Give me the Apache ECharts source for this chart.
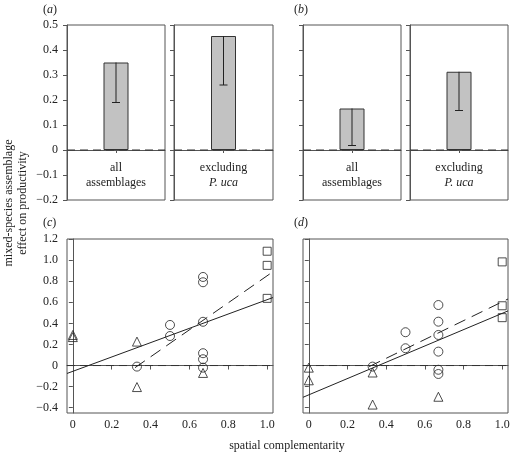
<!DOCTYPE html>
<html>
<head>
<meta charset="utf-8">
<script src="https://cdn.jsdelivr.net/npm/echarts@6/dist/echarts.min.js"></script>
<style>
  html, body { margin: 0; padding: 0; background: #fff; }
  #chart { width: 511px; height: 452px; }
</style>
</head>
<body>
<div id="chart"></div>
<script>
// ---------- data ----------
const barCategoriesAll = ['all'];
const barCategoriesExcl = ['excl'];
const panelA_all = [0.35, 0.19];    // [mean, lower]
const panelA_excl = [0.456, 0.26];
const panelB_all = [0.166, 0.018];
const panelB_excl = [0.313, 0.158];
const barYTicks = [-0.2, -0.1, 0, 0.1, 0.2, 0.3, 0.4, 0.5];

const scatterXTicks = [0, 0.2, 0.4, 0.6, 0.8, 1.0];
const scatterYTicks = [-0.4, -0.2, 0, 0.2, 0.4, 0.6, 0.8, 1.0, 1.2];

// panel (c)
const cTriangles = [[0, 0.29], [0, 0.27], [0.33, 0.227], [0.33, -0.204], [0.67, -0.07]];
const cCircles = [[0.33, -0.01], [0.5, 0.385], [0.5, 0.28], [0.67, 0.84], [0.67, 0.79], [0.67, 0.415], [0.67, 0.117], [0.67, 0.06], [0.67, -0.02]];
const cSquares = [[1.0, 1.084], [1.0, 0.95], [1.0, 0.637]];
const cFitSolid = [[-0.03, -0.075], [1.03, 0.645]];
const cFitDashed = [[0.32, -0.02], [1.03, 0.89]];

// panel (d)
const dTriangles = [[0, -0.02], [0, -0.14], [0.33, -0.066], [0.33, -0.37], [0.67, -0.296]];
const dCircles = [[0.33, -0.01], [0.5, 0.316], [0.5, 0.164], [0.67, 0.574], [0.67, 0.416], [0.67, 0.29], [0.67, 0.132], [0.67, -0.04], [0.67, -0.08]];
const dSquares = [[1.0, 0.983], [1.0, 0.567], [1.0, 0.454]];
const dFitSolid = [[-0.03, -0.301], [1.03, 0.518]];
const dFitDashed = [[0.312, -0.01], [1.03, 0.631]];

// ---------- styling ----------
const FONT = '"Liberation Serif", "Times New Roman", serif';
const AX = '#555';
const INK = '#222';
const TICKFS = 12;
const XMIN = -0.03, XMAX = 1.03;

function fmtNum(v, dec) {
  if (Math.abs(v) < 1e-9) return '0';
  const s = Math.abs(v).toFixed(dec);
  return (v < 0 ? '\u2212' : '') + s;
}

const topGrids = [
  { left: 67, top: 25, width: 98, height: 175 },
  { left: 174, top: 25, width: 99, height: 175 },
  { left: 303, top: 25, width: 98, height: 175 },
  { left: 410, top: 25, width: 98, height: 175 }
];
const bottomGrids = [
  { left: 67, top: 239, width: 206, height: 174 },
  { left: 303, top: 239, width: 205, height: 174 }
];
const grids = topGrids.concat(bottomGrids).map(g => Object.assign({
  show: true, borderColor: AX, borderWidth: 1, backgroundColor: 'transparent',
  outerBoundsMode: 'none', containLabel: false
}, g));

const labelTexts = ['all\nassemblages', 'excluding\n{it|P. uca}', 'all\nassemblages', 'excluding\n{it|P. uca}'];
const barCats = [barCategoriesAll, barCategoriesExcl, barCategoriesAll, barCategoriesExcl];
const barVals = [panelA_all, panelA_excl, panelB_all, panelB_excl];

const xAxes = [];
const yAxes = [];
const series = [];

for (let i = 0; i < 4; i++) {
  xAxes.push({
    type: 'category', gridIndex: i, data: barCats[i], boundaryGap: true,
    axisLine: { show: true, lineStyle: { color: AX, width: 1 } },
    axisTick: { show: true, alignWithLabel: true, length: 3, lineStyle: { color: AX } },
    axisLabel: {
      show: true, inside: true, margin: 10, interval: 0,
      formatter: () => labelTexts[i],
      fontFamily: FONT, fontSize: 12, lineHeight: 15, color: INK, align: 'center',
      rich: { it: { fontFamily: FONT, fontSize: 12, lineHeight: 15, color: INK, fontStyle: 'italic' } }
    },
    splitLine: { show: false }
  });
  yAxes.push({
    type: 'value', gridIndex: i, min: -0.2, max: 0.5,
    axisLine: { show: true, lineStyle: { color: AX, width: 1 } },
    axisTick: { show: true, length: 4, lineStyle: { color: AX }, customValues: barYTicks },
    axisLabel: {
      show: i === 0, margin: 9, fontFamily: FONT, fontSize: TICKFS, color: INK,
      customValues: barYTicks, formatter: v => fmtNum(v, 1)
    },
    splitLine: { show: false }
  });
  series.push({
    type: 'bar', xAxisIndex: i, yAxisIndex: i, barWidth: 25,
    data: [barVals[i][0]],
    itemStyle: { color: '#c2c2c2', borderColor: '#333', borderWidth: 1 },
    silent: true, z: 2
  });
  // dashed zero reference line across the panel
  series.push({
    type: 'custom', xAxisIndex: i, yAxisIndex: i, silent: true,
    data: [[0, 0]],
    renderItem: function (params, api) {
      const cs = params.coordSys;
      const y0 = api.coord([0, api.value(1)])[1];
      return {
        type: 'line',
        shape: { x1: cs.x, y1: y0, x2: cs.x + cs.width, y2: y0 },
        style: { stroke: '#333', lineWidth: 1, lineDash: [8, 5] }
      };
    },
    z: 4
  });
  series.push({
    type: 'custom', xAxisIndex: i, yAxisIndex: i, silent: true,
    data: [[0, barVals[i][0], barVals[i][1]]],
    encode: { x: 0, y: [1, 2] },
    renderItem: function (params, api) {
      const hi = api.coord([api.value(0), api.value(1)]);
      const lo = api.coord([api.value(0), api.value(2)]);
      const hw = 4;
      const st = { stroke: '#222', lineWidth: 1 };
      return {
        type: 'group',
        children: [
          { type: 'line', shape: { x1: hi[0], y1: hi[1], x2: lo[0], y2: lo[1] }, style: st },
          { type: 'line', shape: { x1: lo[0] - hw, y1: lo[1], x2: lo[0] + hw, y2: lo[1] }, style: st }
        ]
      };
    },
    z: 3
  });
}

const scatterSets = [
  { tri: cTriangles, cir: cCircles, sq: cSquares, fs: cFitSolid, fd: cFitDashed },
  { tri: dTriangles, cir: dCircles, sq: dSquares, fs: dFitSolid, fd: dFitDashed }
];

scatterSets.forEach((s, k) => {
  const gi = 4 + k;
  xAxes.push({
    type: 'value', gridIndex: gi, min: XMIN, max: XMAX,
    axisLine: { show: true, lineStyle: { color: AX, width: 1 } },
    axisTick: { show: true, length: 4, lineStyle: { color: AX }, customValues: scatterXTicks },
    axisLabel: {
      show: true, margin: 6, fontFamily: FONT, fontSize: TICKFS, color: INK,
      customValues: scatterXTicks, formatter: v => fmtNum(v, 1)
    },
    splitLine: { show: false }
  });
  yAxes.push({
    type: 'value', gridIndex: gi, min: -0.45, max: 1.2,
    axisLine: { show: true, lineStyle: { color: AX, width: 1 } },
    axisTick: { show: true, length: 4, lineStyle: { color: AX }, customValues: scatterYTicks },
    axisLabel: {
      show: k === 0, margin: 9, fontFamily: FONT, fontSize: TICKFS, color: INK,
      customValues: scatterYTicks, formatter: v => fmtNum(v, 1)
    },
    splitLine: { show: false }
  });
  const ax = { xAxisIndex: gi, yAxisIndex: gi };
  const hollow = { color: 'rgba(255,255,255,0)', borderColor: INK, borderWidth: 1 };
  series.push(Object.assign({
    type: 'line', data: [[XMIN, 0], [XMAX, 0]], symbol: 'none', silent: true,
    lineStyle: { color: '#333', width: 1, type: [8, 5] }
  }, ax));
  series.push(Object.assign({
    type: 'line', data: s.fs, symbol: 'none', clip: true, silent: true,
    lineStyle: { color: INK, width: 1 }
  }, ax));
  series.push(Object.assign({
    type: 'line', data: s.fd, symbol: 'none', clip: true, silent: true,
    lineStyle: { color: INK, width: 1, type: [12, 7] }
  }, ax));
  series.push(Object.assign({
    type: 'scatter', data: s.cir, symbol: 'circle', symbolSize: 9, itemStyle: hollow, silent: true
  }, ax));
  series.push(Object.assign({
    type: 'scatter', data: s.tri, symbol: 'triangle', symbolSize: 9, itemStyle: hollow, silent: true
  }, ax));
  series.push(Object.assign({
    type: 'scatter', data: s.sq, symbol: 'rect', symbolSize: 8, itemStyle: hollow, silent: true
  }, ax));
});

const txt = (x, y, text, extra) => Object.assign({
  type: 'text', x: x, y: y,
  style: Object.assign({
    text: text, fontFamily: FONT, fontSize: 12, fill: INK
  }, extra || {})
});
const letterRich = { it: { fontFamily: FONT, fontSize: 12, fontStyle: 'italic', fill: INK } };

const graphic = [
  txt(43, 10, '({it|a})', { rich: letterRich, verticalAlign: 'middle' }),
  txt(294, 10, '({it|b})', { rich: letterRich, verticalAlign: 'middle' }),
  txt(43, 223, '({it|c})', { rich: letterRich, verticalAlign: 'middle' }),
  txt(294, 223, '({it|d})', { rich: letterRich, verticalAlign: 'middle' }),
  {
    type: 'text', x: 16, y: 203, rotation: Math.PI / 2,
    style: {
      text: 'mixed-species assemblage\neffect on productivity',
      fontFamily: FONT, fontSize: 12, lineHeight: 14, fill: INK,
      align: 'center', verticalAlign: 'middle'
    }
  },
  txt(287, 446, 'spatial complementarity', { align: 'center', verticalAlign: 'middle' })
];

const chart = echarts.init(document.getElementById('chart'), null, { renderer: 'canvas' });
chart.setOption({
  animation: false,
  backgroundColor: '#fff',
  grid: grids,
  xAxis: xAxes,
  yAxis: yAxes,
  series: series,
  graphic: graphic
});
</script>
</body>
</html>
